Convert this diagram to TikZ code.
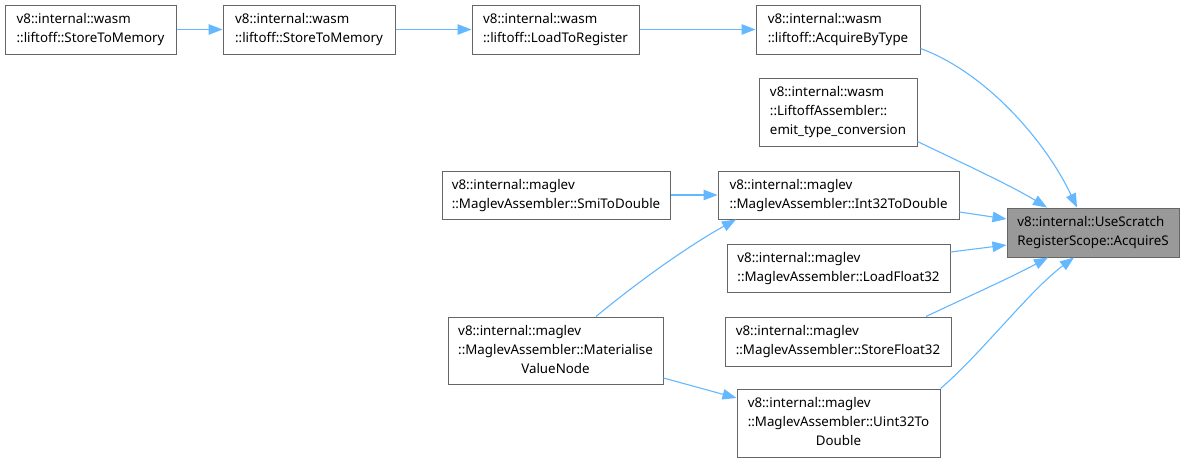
\documentclass[tikz,border=0pt]{standalone}
\usepackage{fontspec}
\setmainfont{Noto Sans}
\usetikzlibrary{arrows.meta}
\definecolor{edgeblue}{HTML}{63B8FF}
\definecolor{boxgrey}{HTML}{666666}
\definecolor{targetfill}{HTML}{999999}
\newcommand{\lbl}[1]{\begin{tabular}{@{}l@{}}#1\end{tabular}}
\newcommand{\centerrow}[1]{\multicolumn{1}{@{}c@{}}{#1}}
\tikzset{
  box/.style={draw=boxgrey, fill=white, line width=1pt, inner sep=0pt, rectangle,
    font=\fontsize{13.33}{19}\selectfont},
  target/.style={box, fill=targetfill},
  edge/.style={draw=edgeblue, line width=1.1pt, -{Triangle[length=14pt,width=10.5pt]}},
}
\begin{document}
\begin{tikzpicture}[x=1pt,y=-1pt]
\useasboundingbox[fill=white] (0,0) rectangle (1184,464);
\node[box, minimum width=171pt, minimum height=49pt] (A) at (90.5,29.5)
  {\lbl{v8::internal::wasm\\::liftoff::StoreToMemory}};
\node[box, minimum width=172pt, minimum height=49pt] (B) at (309,29.5)
  {\lbl{v8::internal::wasm\\::liftoff::StoreToMemory}};
\node[box, minimum width=167pt, minimum height=49pt] (C) at (555.5,29.5)
  {\lbl{v8::internal::wasm\\::liftoff::LoadToRegister}};
\node[box, minimum width=164pt, minimum height=49pt] (D) at (838,29.5)
  {\lbl{v8::internal::wasm\\::liftoff::AcquireByType}};
\node[box, minimum width=158pt, minimum height=68pt] (E) at (838,112)
  {\lbl{v8::internal::wasm\\::LiftoffAssembler::\\emit\_type\_conversion}};
\node[box, minimum width=228pt, minimum height=48pt] (F) at (556,195)
  {\lbl{v8::internal::maglev\\::MaglevAssembler::SmiToDouble}};
\node[box, minimum width=241pt, minimum height=48pt] (G) at (838.5,195)
  {\lbl{v8::internal::maglev\\::MaglevAssembler::Int32ToDouble}};
\node[box, minimum width=223pt, minimum height=48pt] (H) at (838.5,268)
  {\lbl{v8::internal::maglev\\::MaglevAssembler::LoadFloat32}};
\node[box, minimum width=226pt, minimum height=49pt] (J) at (838,341.5)
  {\lbl{v8::internal::maglev\\::MaglevAssembler::StoreFloat32}};
\node[box, minimum width=215pt, minimum height=67pt] (I) at (555.5,350.5)
  {\lbl{v8::internal::maglev\\::MaglevAssembler::Materialise\\\centerrow{ValueNode}}};
\node[box, minimum width=203pt, minimum height=68pt] (K) at (838.5,423)
  {\lbl{v8::internal::maglev\\::MaglevAssembler::Uint32To\\\centerrow{Double}}};
\node[target, minimum width=172pt, minimum height=49pt] (L) at (1093,232.5)
  {\lbl{v8::internal::UseScratch\\RegisterScope::AcquireS}};
% edges
\draw[edge] (A) -- (B);
\draw[edge] (B) -- (C);
\draw[edge] (C) -- (D);
\draw[edge] (F) -- (G);
\draw[edge] ([yshift=6pt]D.south east) .. controls (985,72) and (1045,140) .. ([xshift=-16pt]L.north);
\draw[edge] ([yshift=5pt]E.south east) .. controls (960,162) and (1010,185) .. ([xshift=-46pt]L.north);
\draw[edge] ([yshift=-17pt]G.east) -- ([yshift=13.5pt]L.west);
\draw[edge] ([yshift=16pt]H.east) -- ([yshift=-12.5pt]L.west);
\draw[edge] ([xshift=88pt]J.north) .. controls (965,298) and (1010,278) .. ([xshift=-45pt]L.south);
\draw[edge] (K.north east) .. controls (980,355) and (1030,290) .. ([xshift=-19pt]L.south);
\draw[edge] ([xshift=40.5pt]I.north) .. controls (640,280) and (690,245) .. ([xshift=-102.5pt]G.south);
\draw[edge] ([yshift=-27.5pt]I.east) -- ([yshift=25pt]K.west);
\end{tikzpicture}
\end{document}
